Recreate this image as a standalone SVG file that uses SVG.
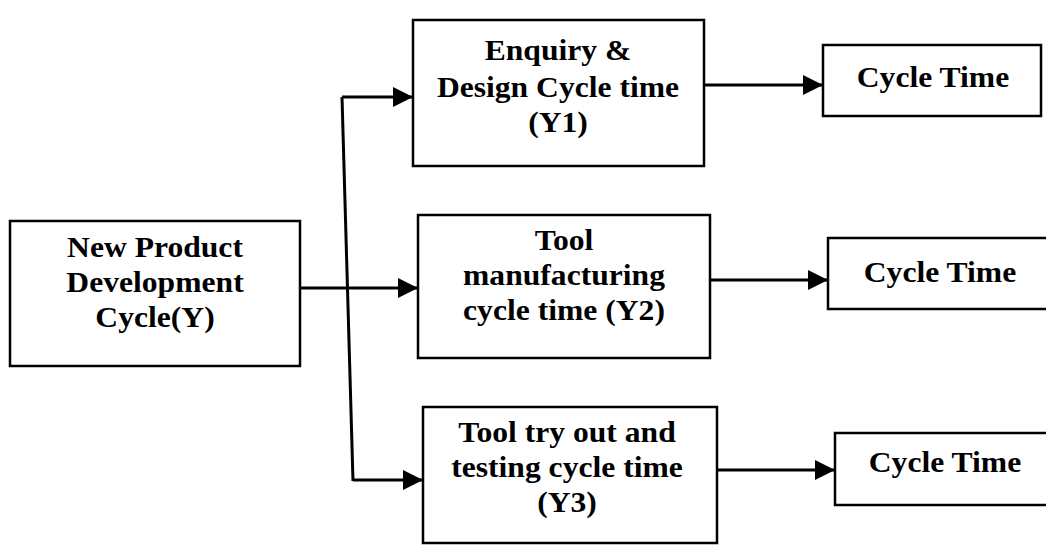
<svg xmlns="http://www.w3.org/2000/svg" width="1046" height="546" viewBox="0 0 1046 546">
<defs>
<marker id="ah" markerUnits="userSpaceOnUse" markerWidth="22" markerHeight="20" refX="20" refY="10" orient="auto">
<path d="M0,0 L20,10 L0,20 Z" fill="#000"/>
</marker>
<style>
.box{fill:#fff;stroke:#000;stroke-width:2.5}
.lbl{font-family:"Liberation Serif","Times New Roman",serif;font-weight:bold;font-size:29px;fill:#000;text-anchor:middle}
.con{fill:none;stroke:#000;stroke-width:3}
</style>
</defs>
<rect width="1046" height="546" fill="#fff"/>
<g id="connectors">
<line class="con" x1="300" y1="288" x2="418" y2="288" marker-end="url(#ah)"/>
<line class="con" x1="342" y1="97" x2="353" y2="481"/>
<line class="con" x1="342" y1="97" x2="413" y2="97" marker-end="url(#ah)"/>
<line class="con" x1="353" y1="480" x2="423" y2="480" marker-end="url(#ah)"/>
<line class="con" x1="704" y1="85" x2="823" y2="85" marker-end="url(#ah)"/>
<line class="con" x1="710" y1="280" x2="828" y2="280" marker-end="url(#ah)"/>
<line class="con" x1="717" y1="470" x2="835" y2="470" marker-end="url(#ah)"/>
</g>
<g id="npd">
<rect class="box" x="10" y="221" width="290" height="145"/>
<text class="lbl" transform="translate(155 0) scale(1.09 1)"><tspan x="0" y="257">New Product</tspan><tspan x="0" y="292">Development</tspan><tspan x="0" y="327">Cycle(Y)</tspan></text>
</g>
<g id="y1">
<rect class="box" x="413" y="20" width="291" height="146"/>
<text class="lbl" transform="translate(558 0) scale(1.09 1)"><tspan x="0" y="60">Enquiry &amp;</tspan><tspan x="0" y="97">Design Cycle time</tspan><tspan x="0" y="132">(Y1)</tspan></text>
</g>
<g id="y2">
<rect class="box" x="418" y="215" width="292" height="143"/>
<text class="lbl" transform="translate(564 0) scale(1.09 1)"><tspan x="0" y="250">Tool</tspan><tspan x="0" y="285">manufacturing</tspan><tspan x="0" y="320">cycle time (Y2)</tspan></text>
</g>
<g id="y3">
<rect class="box" x="423" y="407" width="294" height="136"/>
<text class="lbl" transform="translate(567 0) scale(1.09 1)"><tspan x="0" y="442">Tool try out and</tspan><tspan x="0" y="477">testing cycle time</tspan><tspan x="0" y="512">(Y3)</tspan></text>
</g>
<g id="ct1">
<rect class="box" x="823" y="45" width="218" height="71"/>
<text class="lbl" transform="translate(933 0) scale(1.09 1)" x="0" y="87">Cycle Time</text>
</g>
<g id="ct2">
<rect class="box" x="828" y="238" width="230" height="71"/>
<text class="lbl" transform="translate(940 0) scale(1.09 1)" x="0" y="282">Cycle Time</text>
</g>
<g id="ct3">
<rect class="box" x="835" y="433" width="230" height="72"/>
<text class="lbl" transform="translate(945 0) scale(1.09 1)" x="0" y="472">Cycle Time</text>
</g>
</svg>
